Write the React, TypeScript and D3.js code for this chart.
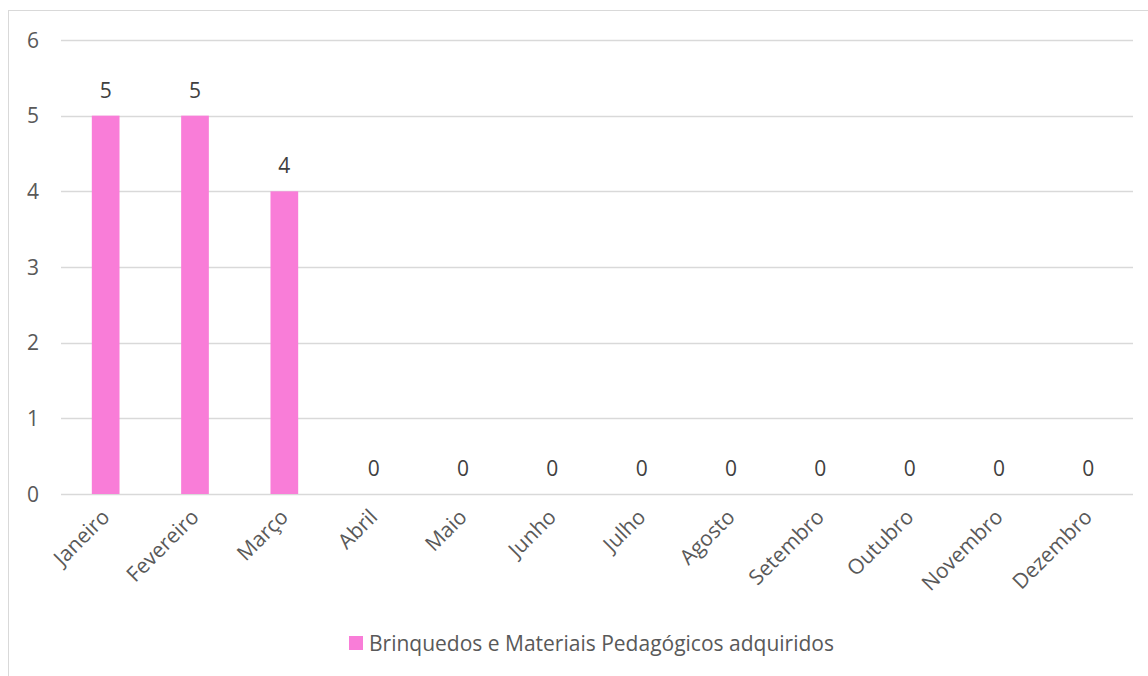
import React from 'react';
import * as d3 from 'd3';

const months = ['Janeiro', 'Fevereiro', 'Março', 'Abril', 'Maio', 'Junho', 'Julho', 'Agosto', 'Setembro', 'Outubro', 'Novembro', 'Dezembro'];
const values = [5, 5, 4, 0, 0, 0, 0, 0, 0, 0, 0, 0];
const yTicks = [0, 1, 2, 3, 4, 5, 6];
const seriesName = 'Brinquedos e Materiais Pedagógicos adquiridos';

const width = 1148;
const height = 676;
const font = '"Open Sans", sans-serif';
const fs = 21;
const textColor = '#595959';
const barColor = '#f97dd8';

const App: React.FC = () => {
  // plot area
  const left = 61;
  const right = 1133;
  const top = 40;
  const bottom = 494;

  const x = d3.scaleBand<string>().domain(months).range([left, right]).paddingInner(0.69).paddingOuter(0.345);
  const xc = d3.scaleBand<string>().domain(months).range([left, right]);
  const y = d3.scaleLinear().domain([0, 6]).range([bottom, top]);

  return (
    <svg width={width} height={height} style={{ position: 'absolute', left: 0, top: 0 }}>
      <rect x={0} y={0} width={width} height={height} fill="#fff" />
      <rect x={8.5} y={10.5} width={width + 20} height={height + 20} fill="none" stroke="#d9d9d9" />

      {/* gridlines */}
      {yTicks.map(t => (
        <line key={t} x1={left} x2={right} y1={Math.round(y(t)) + 0.5} y2={Math.round(y(t)) + 0.5} stroke="#d9d9d9" strokeWidth={1.5} />
      ))}

      {/* y tick labels */}
      {yTicks.map(t => (
        <text key={t} x={39} y={y(t)} dy="0.36em" textAnchor="end" fontFamily={font} fontSize={fs} fill={textColor}>{t}</text>
      ))}

      {/* bars */}
      {months.map((m, i) => (
        <rect key={m} x={x(m)} y={y(values[i])} width={x.bandwidth()} height={bottom - y(values[i])} fill={barColor} />
      ))}

      {/* data labels */}
      {months.map((m, i) => (
        <text key={m} x={(xc(m) as number) + xc.bandwidth() / 2} y={y(values[i]) - 18} textAnchor="middle" fontFamily={font} fontSize={fs} fill="#404040">{values[i]}</text>
      ))}

      {/* x labels */}
      {months.map(m => {
        const cx = (xc(m) as number) + xc.bandwidth() / 2;
        return (
          <text key={m} transform={`translate(${cx},${bottom + 19}) rotate(-45)`} textAnchor="end" dy="0.35em" fontFamily={font} fontSize={fs} fill={textColor}>{m}</text>
        );
      })}

      {/* legend */}
      <rect x={349} y={636} width={14} height={14} fill={barColor} />
      <text x={369} y={651} fontFamily={font} fontSize={fs} fill={textColor}>{seriesName}</text>
    </svg>
  );
};

export default App;
